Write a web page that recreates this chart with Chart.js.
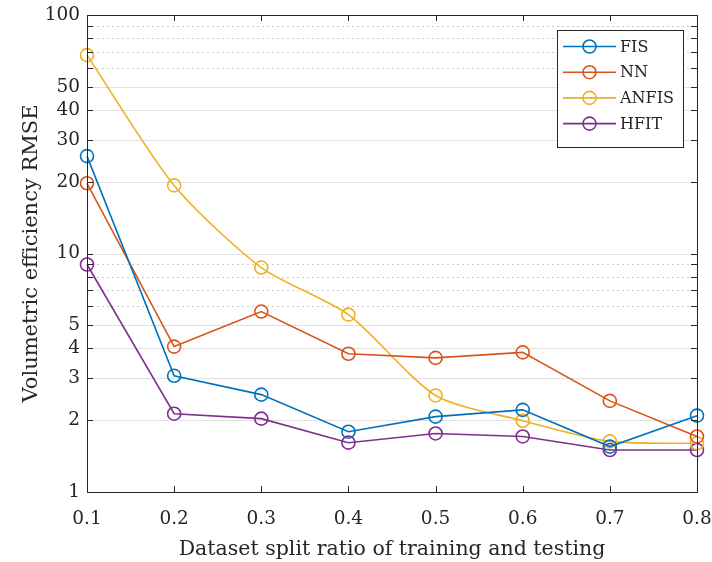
<!DOCTYPE html>
<html>
<head>
<meta charset="utf-8">
<script src="https://cdn.jsdelivr.net/npm/chart.js@4.4.1/dist/chart.umd.min.js"></script>
<style>
  html, body { margin: 0; padding: 0; background: #fff; }
  #rmseChart { display: block; }
</style>
</head>
<body>
<canvas id="rmseChart" width="712" height="562"></canvas>
<script>
// split ratios and RMSE per model
const splitRatios = [0.1, 0.2, 0.3, 0.4, 0.5, 0.6, 0.7, 0.8];
const fisRmse   = [25.6, 3.07, 2.56, 1.79, 2.07, 2.21, 1.55, 2.09];
const nnRmse    = [19.7, 4.07, 5.71, 3.80, 3.65, 3.85, 2.41, 1.71];
const anfisRmse = [67.9, 19.3, 8.73, 5.54, 2.54, 1.99, 1.63, 1.60];
const hfitRmse  = [8.99, 2.13, 2.03, 1.61, 1.76, 1.71, 1.50, 1.50];
const modelNames = ['FIS', 'NN', 'ANFIS', 'HFIT'];

const yTickLabels = [1, 2, 3, 4, 5, 10, 20, 30, 40, 50, 100];
const yMinorTicks = [6, 7, 8, 9, 60, 70, 80, 90];

const colors = ['#0072BD', '#D95319', '#EDB120', '#7E2F8E'];
const fontFamily = '"DejaVu Serif", "Liberation Serif", serif';
const axisColor = '#262626';

function toPoints(values) {
  return values.map((v, i) => ({ x: splitRatios[i], y: v }));
}

function series(label, values, color, tension) {
  return {
    label: label,
    data: toPoints(values),
    borderColor: color,
    backgroundColor: 'rgba(0,0,0,0)',
    borderWidth: 1.6,
    pointRadius: 6.5,
    pointHoverRadius: 6.5,
    pointBorderWidth: 1.6,
    pointBackgroundColor: 'rgba(0,0,0,0)',
    pointBorderColor: color,
    tension: tension || 0,
    clip: false
  };
}

// horizontal grid: solid at labelled ticks, dotted at minor ones
const gridPlugin = {
  id: 'logGrid',
  beforeDatasetsDraw(chart) {
    const { ctx, chartArea: a, scales: { y } } = chart;
    ctx.save();
    ctx.lineWidth = 1;
    yTickLabels.forEach(v => {
      if (v === 1 || v === 100) return;
      const py = Math.round(y.getPixelForValue(v)) + 0.5;
      ctx.strokeStyle = '#e0e0e0';
      ctx.setLineDash([]);
      ctx.beginPath(); ctx.moveTo(a.left, py); ctx.lineTo(a.right, py); ctx.stroke();
    });
    yMinorTicks.forEach(v => {
      const py = Math.round(y.getPixelForValue(v)) + 0.5;
      ctx.strokeStyle = '#cccccc';
      ctx.setLineDash([2, 3]);
      ctx.beginPath(); ctx.moveTo(a.left, py); ctx.lineTo(a.right, py); ctx.stroke();
    });
    ctx.restore();
  },
  afterDatasetsDraw(chart) {
    const { ctx, chartArea: a, scales: { x, y } } = chart;
    ctx.save();
    ctx.strokeStyle = axisColor;
    ctx.lineWidth = 1;
    ctx.setLineDash([]);
    // box
    ctx.strokeRect(Math.round(a.left) + 0.5, Math.round(a.top) + 0.5,
      Math.round(a.right - a.left), Math.round(a.bottom - a.top));
    // inward ticks on all four sides
    const tl = 6;
    ctx.beginPath();
    splitRatios.forEach(v => {
      const px = Math.round(x.getPixelForValue(v)) + 0.5;
      ctx.moveTo(px, a.bottom); ctx.lineTo(px, a.bottom - tl);
      ctx.moveTo(px, a.top); ctx.lineTo(px, a.top + tl);
    });
    yTickLabels.concat(yMinorTicks).forEach(v => {
      const py = Math.round(y.getPixelForValue(v)) + 0.5;
      ctx.moveTo(a.left, py); ctx.lineTo(a.left + tl, py);
      ctx.moveTo(a.right, py); ctx.lineTo(a.right - tl, py);
    });
    ctx.stroke();
    ctx.restore();
  }
};

// boxed legend with line + circle sample, upper right
const legendPlugin = {
  id: 'boxLegend',
  afterDraw(chart) {
    const { ctx } = chart;
    const bx = 557.5, by = 30.5, bw = 126, bh = 117;
    ctx.save();
    ctx.fillStyle = '#fff';
    ctx.fillRect(bx, by, bw, bh);
    ctx.strokeStyle = axisColor;
    ctx.lineWidth = 1;
    ctx.strokeRect(bx, by, bw, bh);
    ctx.font = '16px ' + fontFamily;
    ctx.textBaseline = 'middle';
    ctx.textAlign = 'left';
    chart.data.datasets.forEach((ds, i) => {
      const cy = 46.5 + i * 25.7;
      ctx.strokeStyle = ds.borderColor;
      ctx.lineWidth = 1.6;
      ctx.beginPath(); ctx.moveTo(563, cy); ctx.lineTo(616, cy); ctx.stroke();
      ctx.beginPath(); ctx.arc(589.5, cy, 6.5, 0, Math.PI * 2); ctx.stroke();
      ctx.fillStyle = axisColor;
      ctx.fillText(ds.label, 620, cy + 1);
    });
    ctx.restore();
  }
};

new Chart(document.getElementById('rmseChart'), {
  type: 'line',
  data: {
    datasets: [
      series(modelNames[0], fisRmse, colors[0]),
      series(modelNames[1], nnRmse, colors[1]),
      series(modelNames[2], anfisRmse, colors[2], 0.25),
      series(modelNames[3], hfitRmse, colors[3])
    ]
  },
  options: {
    responsive: false,
    animation: false,
    devicePixelRatio: 1,
    layout: { padding: { left: 0, right: 15, top: 15, bottom: 0 } },
    plugins: {
      legend: { display: false },
      tooltip: { enabled: false }
    },
    scales: {
      x: {
        type: 'linear',
        min: 0.1,
        max: 0.8,
        afterBuildTicks: scale => { scale.ticks = splitRatios.map(v => ({ value: v })); },
        afterFit: scale => {
          scale.height = 70;
          scale.paddingLeft = 0;
          scale.paddingRight = 0;
        },
        grid: { display: false, drawTicks: false },
        border: { display: false },
        ticks: {
          autoSkip: false,
          maxRotation: 0,
          padding: 16,
          color: axisColor,
          font: { family: fontFamily, size: 18.5 },
          callback: v => v.toFixed(1)
        },
        title: {
          display: true,
          text: 'Dataset split ratio of training and testing',
          color: axisColor,
          font: { family: fontFamily, size: 20.5 },
          padding: { top: 3, bottom: 0 }
        }
      },
      y: {
        type: 'logarithmic',
        min: 1,
        max: 100,
        afterBuildTicks: scale => {
          scale.ticks = yTickLabels.concat(yMinorTicks).sort((a, b) => a - b).map(v => ({ value: v }));
        },
        afterFit: scale => {
          scale.width = 87;
          scale.paddingTop = 0;
          scale.paddingBottom = 0;
        },
        grid: { display: false, drawTicks: false },
        border: { display: false },
        ticks: {
          autoSkip: false,
          padding: 7,
          color: axisColor,
          font: { family: fontFamily, size: 18.5 },
          callback: v => yTickLabels.includes(v) ? String(v) : ''
        },
        title: {
          display: true,
          text: 'Volumetric efficiency RMSE',
          color: axisColor,
          font: { family: fontFamily, size: 21 },
          padding: { top: 19, bottom: 0 }
        }
      }
    }
  },
  plugins: [gridPlugin, legendPlugin]
});
</script>
</body>
</html>
